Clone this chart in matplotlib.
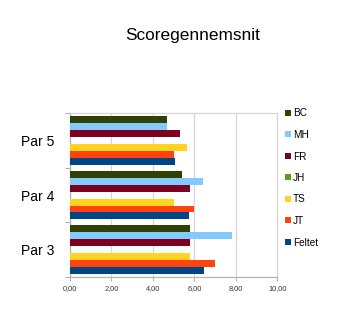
import matplotlib
matplotlib.use("Agg")
import matplotlib.pyplot as plt
from matplotlib.patches import Patch
import numpy as np

plt.rcParams['font.family'] = ['Liberation Sans', 'DejaVu Sans']

categories = ["Par 3", "Par 4", "Par 5"]
series_names = ["Feltet", "JT", "TS", "JH", "FR", "MH", "BC"]
feltet = [6.45, 5.73, 5.08]
jt = [7.00, 6.00, 5.02]
ts = [5.79, 5.02, 5.66]
jh = [0.0, 0.0, 0.0]
fr = [5.81, 5.79, 5.32]
mh = [7.81, 6.40, 4.68]
bc = [5.81, 5.39, 4.68]
series_values = [feltet, jt, ts, jh, fr, mh, bc]
colors = ["#004586", "#ff420e", "#ffd320", "#579d1c", "#7e0021", "#83caff", "#314004"]
x_ticks = [0, 2, 4, 6, 8, 10]
x_tick_labels = ["0,00", "2,00", "4,00", "6,00", "8,00", "10,00"]
title = "Scoregennemsnit"

fig = plt.figure(figsize=(3.51, 3.10), dpi=100)
ax = fig.add_axes([70/351, 1-277/310, (277.3-70)/351, (277-113.3)/310])

n = len(series_names)
h = 0.89 / n
y = np.arange(len(categories))
for i, (name, vals, c) in enumerate(zip(series_names, series_values, colors)):
    ax.barh(y + (i - (n-1)/2) * h, vals, height=h, color=c, label=name, zorder=3)

ax.set_xlim(0, 10)
ax.set_ylim(-0.5, len(categories) - 0.5)
ax.set_xticks(x_ticks)
ax.set_xticklabels(x_tick_labels, fontsize=5.3, color="#333333")
ax.set_yticks(y)
ax.set_yticklabels(categories, fontsize=10, color="#000000")
ax.set_yticks(np.arange(len(categories)+1) - 0.5, minor=True)
ax.tick_params(axis='y', which='major', length=0, pad=11)
ax.tick_params(axis='y', which='minor', length=3.5, color="#b3b3b3", width=0.8)
ax.tick_params(axis='x', which='major', length=3, color="#b3b3b3", width=0.8, pad=2.5)
ax.grid(axis='x', color="#d6d6d6", linewidth=0.9, zorder=0)
for s in ['top', 'right']:
    ax.spines[s].set_color("#d6d6d6")
    ax.spines[s].set_linewidth(0.9)
for s in ['left', 'bottom']:
    ax.spines[s].set_color("#b3b3b3")
    ax.spines[s].set_linewidth(0.9)

handles = [Patch(facecolor=c, edgecolor='none') for c in colors]
order = list(range(n))[::-1]
fig.legend([handles[i] for i in order], [series_names[i] for i in order],
           loc='upper left', bbox_to_anchor=(285/351, 1-108.5/310),
           frameon=False, fontsize=7.2, handlelength=0.55, handleheight=0.55,
           handletextpad=0.25, labelspacing=1.15, borderpad=0, borderaxespad=0)

fig.text(193/351, 1-35.5/310, title, ha='center', va='center', fontsize=12.4)

fig.savefig("out.png", dpi=100)
